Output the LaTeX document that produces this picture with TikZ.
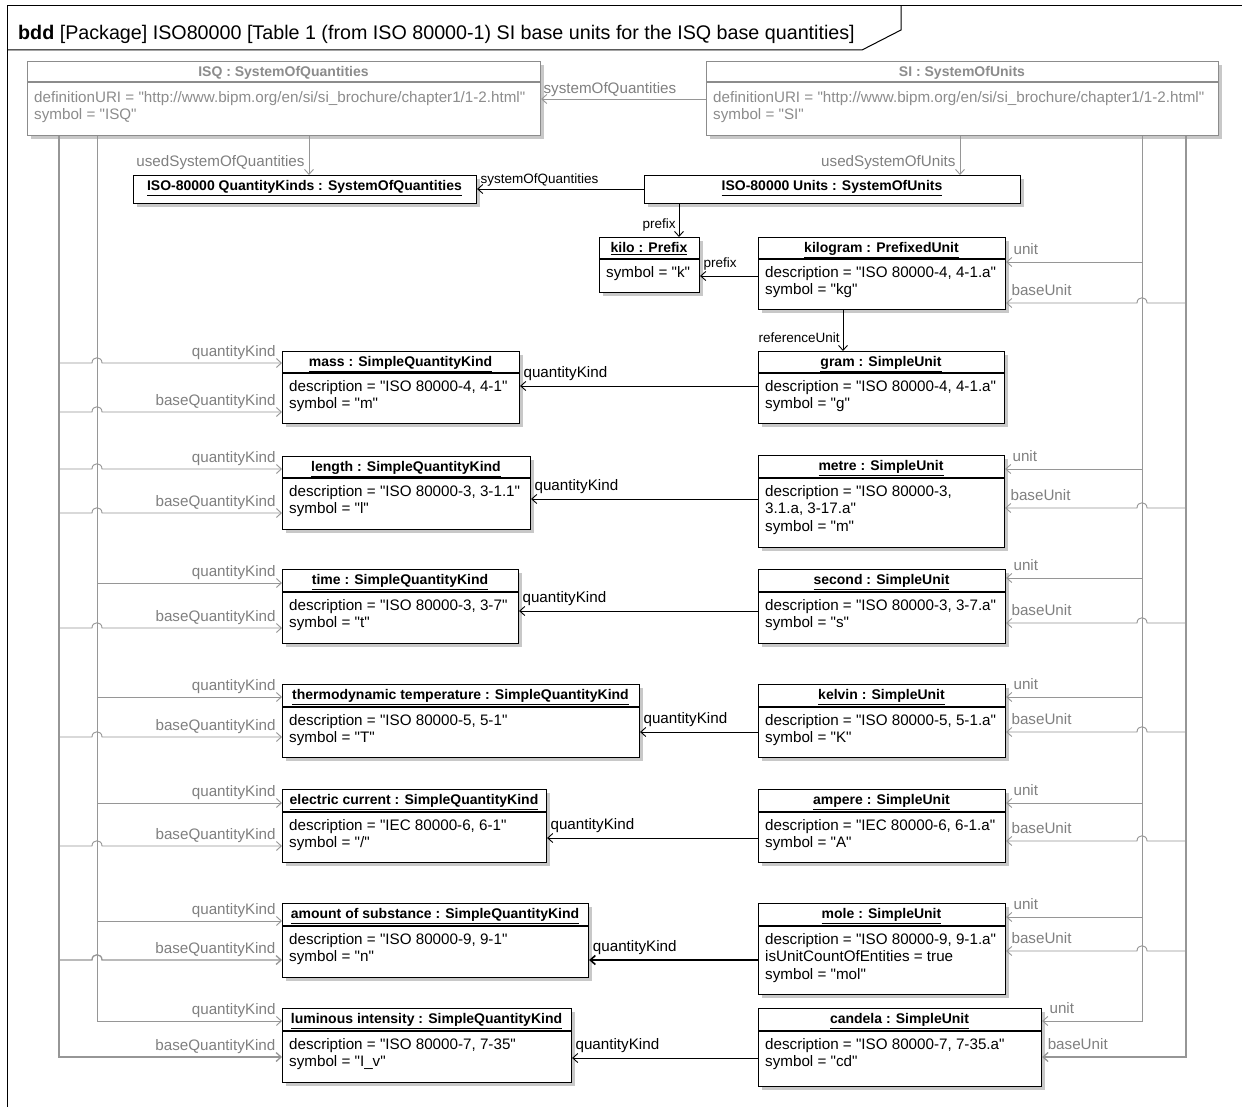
\documentclass[tikz,border=0pt]{standalone}
\usepackage{fontspec}
\setmainfont{Liberation Sans}[Ligatures=TeXOff]
\usetikzlibrary{arrows.meta,shadows}
\definecolor{gline}{RGB}{150,150,150}
\definecolor{gtext}{RGB}{128,128,128}
\definecolor{gbox}{RGB}{140,140,140}
\definecolor{shade}{RGB}{200,200,200}
\tikzset{
  objbox/.style={draw=black, line width=1.1pt, fill=white, inner sep=0pt, anchor=north west,
    drop shadow={shadow xshift=3pt, shadow yshift=-3pt, fill=shade, opacity=1}},
  hdr/.style={font=\fontsize{14}{16}\bfseries\selectfont, inner sep=0pt, anchor=base},
  attr/.style={font=\fontsize{15.2}{17.5}\selectfont, inner sep=0pt, anchor=north west, align=left},
  bcon/.style={draw=black, line width=0.9pt, -{Straight Barb[length=5pt,width=9pt]}},
  gcon/.style={draw=gline, line width=0.9pt, -{Straight Barb[length=5pt,width=9pt]}},
  lbl/.style={font=\fontsize{15.2}{17}\selectfont, inner sep=0pt},
  glbl/.style={lbl, text=gtext},
  slbl/.style={font=\fontsize{13.5}{15}\selectfont, inner sep=0pt},
  frame/.style={draw=black, line width=1pt},
}
\newcommand\umlobj[9][black]{%
  \node[objbox,draw=#1,minimum width={#5-#3},minimum height={#6-#4}] (#2) at (#3,#4) {};
  \draw[line width=1.1pt,draw=#1] (#3,#7) -- (#5,#7);
  \node[hdr,text=#1] (#2-h) at ({(#3+#5)/2},{#4+15.5}) {\underline{#8}};
  \node[attr,text=#1] (#2-a) at ({#3+7},{#7+7}) {#9};
}
\begin{document}
\begin{tikzpicture}[x=1pt,y=-1pt]
\useasboundingbox (0,0) rectangle (1242,1107);
\fill[white] (0,0) rectangle (1242,1107);
% frame
\draw[frame] (1242,6) -- (7,6) -- (7,1107);
\draw[frame] (7,50) -- (862,50) -- (901,30) -- (901,6);
\node[font=\fontsize{19.7}{22}\selectfont, inner sep=0pt, anchor=base west] (title) at (18,40)
  {\textbf{bdd} [Package] ISO80000 [Table 1 (from ISO 80000-1) SI base units for the ISQ base quantities]};

% ISQ and SI
\node[objbox,draw=gbox,minimum width=513,minimum height=74] (ISQ) at (27,61) {};
\draw[line width=1.1pt,gbox] (27,82) -- (540,82);
\node[hdr,text=gbox] (ISQ-h) at (283.5,77) {\underline{ISQ : SystemOfQuantities}};
\node[attr,text=gbox] (ISQ-a) at (34,91) {definitionURI = "http://www.bipm.org/en/si/si\_brochure/chapter1/1-2.html"\\symbol = "ISQ"};

\node[objbox,draw=gbox,minimum width=512,minimum height=74] (SI) at (706,61) {};
\draw[line width=1.1pt,gbox] (706,82) -- (1218,82);
\node[hdr,text=gbox] (SI-h) at (962,77) {\underline{SI : SystemOfUnits}};
\node[attr,text=gbox] (SI-a) at (713,91) {definitionURI = "http://www.bipm.org/en/si/si\_brochure/chapter1/1-2.html"\\symbol = "SI"};

% header-only boxes
\node[objbox,minimum width=343,minimum height=28] (QK) at (133,175) {};
\node[hdr] (QK-h) at (304.5,191) {\underline{ISO-80000 QuantityKinds : SystemOfQuantities}};
\node[objbox,minimum width=376,minimum height=28] (Units) at (644,175) {};
\node[hdr] (Units-h) at (832,191) {\underline{ISO-80000 Units : SystemOfUnits}};

% objects
\umlobj{kilo}{599}{237}{699}{292}{259}{kilo : Prefix}{symbol = "k"}
\umlobj{kilogram}{758}{237}{1005}{309}{259}{kilogram : PrefixedUnit}{description = "ISO 80000-4, 4-1.a"\\symbol = "kg"}
\umlobj{gram}{758}{351}{1004}{423}{373}{gram : SimpleUnit}{description = "ISO 80000-4, 4-1.a"\\symbol = "g"}
\umlobj{mass}{282}{351}{519}{423}{373}{mass : SimpleQuantityKind}{description = "ISO 80000-4, 4-1"\\symbol = "m"}
\umlobj{length}{282}{456}{530}{529}{478}{length : SimpleQuantityKind}{description = "ISO 80000-3, 3-1.1"\\symbol = "l"}
\umlobj{metre}{758}{455}{1004}{547}{478}{metre : SimpleUnit}{description = "ISO 80000-3,\\3.1.a, 3-17.a"\\symbol = "m"}
\umlobj{time}{282}{569}{518}{643}{592}{time : SimpleQuantityKind}{description = "ISO 80000-3, 3-7"\\symbol = "t"}
\umlobj{second}{758}{569}{1005}{643}{592}{second : SimpleUnit}{description = "ISO 80000-3, 3-7.a"\\symbol = "s"}
\umlobj{thermo}{282}{684}{639}{757}{707}{thermodynamic temperature : SimpleQuantityKind}{description = "ISO 80000-5, 5-1"\\symbol = "T"}
\umlobj{kelvin}{758}{684}{1005}{757}{707}{kelvin : SimpleUnit}{description = "ISO 80000-5, 5-1.a"\\symbol = "K"}
\umlobj{electric}{282}{789}{546}{862}{812}{electric current : SimpleQuantityKind}{description = "IEC 80000-6, 6-1"\\symbol = "/"}
\umlobj{ampere}{758}{789}{1005}{862}{812}{ampere : SimpleUnit}{description = "IEC 80000-6, 6-1.a"\\symbol = "A"}
\umlobj{amount}{282}{903}{588}{977}{926}{amount of substance : SimpleQuantityKind}{description = "ISO 80000-9, 9-1"\\symbol = "n"}
\umlobj{mole}{758}{903}{1005}{994}{926}{mole : SimpleUnit}{description = "ISO 80000-9, 9-1.a"\\isUnitCountOfEntities = true\\symbol = "mol"}
\umlobj{luminous}{282}{1008}{571}{1082}{1031}{luminous intensity : SimpleQuantityKind}{description = "ISO 80000-7, 7-35"\\symbol = "I\_v"}
\umlobj{candela}{758}{1008}{1041}{1086}{1031}{candela : SimpleUnit}{description = "ISO 80000-7, 7-35.a"\\symbol = "cd"}

% top connectors
\draw[gcon] (SI.west |- 0,99) -- node[glbl, at end, anchor=base west, xshift=2pt, yshift=5.5pt] {systemOfQuantities} (ISQ.east |- 0,99);
\draw[gcon] (ISQ.south -| 309,0) -- node[glbl, at end, anchor=base east, xshift=-4pt, yshift=8.5pt] {usedSystemOfQuantities} (QK.north -| 309,0);
\draw[gcon] (SI.south -| 960,0) -- node[glbl, at end, anchor=base east, xshift=-4pt, yshift=8.5pt] {usedSystemOfUnits} (Units.north -| 960,0);
\draw[bcon] (Units.west |- 0,189) -- node[slbl, at end, anchor=base west, xshift=3pt, yshift=5pt] {systemOfQuantities} (QK.east |- 0,189);
\draw[bcon] (Units.south -| 679,0) -- node[slbl, at end, anchor=base east, xshift=-3pt, yshift=8pt] {prefix} (kilo.north -| 679,0);
\draw[bcon] (kilogram.west |- 0,276) -- node[slbl, at end, anchor=base west, xshift=3pt, yshift=8pt] {prefix} (kilo.east |- 0,276);
\draw[bcon] (kilogram.south -| 843,0) -- node[slbl, at end, anchor=base east, xshift=-3pt, yshift=9pt] {referenceUnit} (gram.north -| 843,0);

% unit -> quantity kind
\foreach \u/\k/\y in {gram/mass/386, metre/length/499, second/time/611, kelvin/thermo/732, ampere/electric/838, candela/luminous/1058}
  \draw[bcon] (\u.west |- 0,\y) -- node[lbl, at end, anchor=base west, xshift=3pt, yshift=8.5pt] {quantityKind} (\k.east |- 0,\y);
\draw[bcon, line width=1.6pt] (mole.west |- 0,960) -- node[lbl, at end, anchor=base west, xshift=3pt, yshift=8.5pt] {quantityKind} (amount.east |- 0,960);

% ISQ -> quantity kinds (left)
\foreach \k/\y in {mass/363, length/469}
  \draw[gcon] (ISQ.south -| 59,0) -- (59,\y) -- (92,\y) .. controls (92,\y-7) and (102,\y-7) .. (102,\y)
    -- node[glbl, at end, anchor=base east, xshift=-6pt, yshift=7pt] {quantityKind} (\k.west |- 0,\y);
\foreach \k/\y in {time/583, thermo/697, electric/803, amount/921, luminous/1021}
  \draw[gcon] (ISQ.south -| 97,0) -- (97,\y)
    -- node[glbl, at end, anchor=base east, xshift=-6pt, yshift=7pt] {quantityKind} (\k.west |- 0,\y);
\foreach \k/\y in {mass/412, length/513, time/628, thermo/737, electric/846}
  \draw[gcon] (ISQ.south -| 59,0) -- (59,\y) -- (92,\y) .. controls (92,\y-7) and (102,\y-7) .. (102,\y)
    -- node[glbl, at end, anchor=base east, xshift=-6pt, yshift=7pt] {baseQuantityKind} (\k.west |- 0,\y);
\draw[gcon, line width=1.3pt] (ISQ.south -| 59,0) -- (59,960) -- (92,960) .. controls (92,953) and (102,953) .. (102,960)
    -- node[glbl, at end, anchor=base east, xshift=-6pt, yshift=7pt] {baseQuantityKind} (amount.west |- 0,960);
\draw[gcon, line width=1.3pt] (ISQ.south -| 59,0) -- (59,1057)
    -- node[glbl, at end, anchor=base east, xshift=-6pt, yshift=7pt] {baseQuantityKind} (luminous.west |- 0,1057);

% SI -> units (right)
\foreach \u/\y in {kilogram/262, metre/469, second/578, kelvin/697, ampere/803, mole/917, candela/1021}
  \draw[gcon] (SI.south -| 1142,0) -- (1142,\y)
    -- node[glbl, at end, anchor=base west, xshift=7pt, yshift=7.5pt] {unit} (\u.east |- 0,\y);
\foreach \u/\y in {kilogram/303, metre/508, second/623, kelvin/732, ampere/841, mole/951}
  \draw[gcon] (SI.south -| 1186,0) -- (1186,\y) -- (1147,\y) .. controls (1147,\y-7) and (1137,\y-7) .. (1137,\y)
    -- node[glbl, at end, anchor=base west, xshift=5pt, yshift=7.5pt] {baseUnit} (\u.east |- 0,\y);
\draw[gcon, line width=1.3pt] (SI.south -| 1186,0) -- (1186,1057)
    -- node[glbl, at end, anchor=base west, xshift=5pt, yshift=7.5pt] {baseUnit} (candela.east |- 0,1057);
\end{tikzpicture}
\end{document}
